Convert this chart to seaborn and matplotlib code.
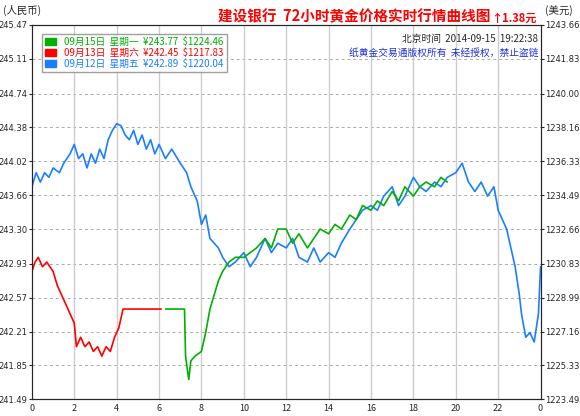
import matplotlib
matplotlib.use("Agg")
import matplotlib.pyplot as plt
import seaborn as sns
import numpy as np
import pandas as pd

sns.set_style("white")
plt.rcParams['font.family'] = ['Noto Sans CJK SC', 'DejaVu Sans']

left_ticks = ["245.47","245.11","244.74","244.38","244.02","243.66","243.30","242.93","242.57","242.21","241.85","241.49"]
right_ticks = ["1243.66","1241.83","1240.00","1238.16","1236.33","1234.49","1232.66","1230.83","1228.99","1227.16","1225.33","1223.49"]
x_labels = ["0","2","4","6","8","10","12","14","16","18","20","22","0"]

blue_x = [0,0.2,0.4,0.6,0.8,1.0,1.3,1.5,1.8,2.0,2.2,2.4,2.6,2.8,3.0,3.2,3.4,3.6,3.8,4.0,4.2,4.4,4.6,4.8,5.0,5.2,5.4,5.6,5.8,6.0,6.3,6.6,7.0,7.3,7.5,7.8,8.0,8.2,8.4,8.8,9.0,9.3,9.6,10.0,10.3,10.6,11.0,11.3,11.6,12.0,12.3,12.6,13.0,13.3,13.6,14.0,14.3,14.6,15.0,15.3,15.6,16.0,16.3,16.6,17.0,17.3,17.6,18.0,18.3,18.6,19.0,19.3,19.6,20.0,20.3,20.6,20.9,21.2,21.5,21.8,22.0,22.2,22.4,22.6,22.8,23.0,23.1,23.3,23.5,23.7,23.9,24.0]
blue_y = [243.75,243.9,243.8,243.9,243.85,243.95,243.9,244.0,244.1,244.2,244.05,244.1,243.95,244.1,244.0,244.15,244.05,244.25,244.35,244.42,244.4,244.3,244.25,244.35,244.2,244.3,244.15,244.25,244.1,244.2,244.05,244.15,244.0,243.9,243.75,243.6,243.35,243.45,243.2,243.1,243.0,242.9,242.95,243.05,242.9,243.0,243.2,243.05,243.15,243.1,243.2,243.0,242.95,243.1,242.95,243.05,243.0,243.15,243.3,243.4,243.5,243.55,243.5,243.65,243.75,243.55,243.65,243.85,243.75,243.7,243.8,243.75,243.85,243.9,244.0,243.8,243.7,243.8,243.65,243.75,243.5,243.4,243.3,243.1,242.9,242.6,242.4,242.15,242.2,242.1,242.4,242.9]
red_x = [0,0.15,0.3,0.5,0.7,1.0,1.2,1.4,1.6,1.8,2.0,2.1,2.3,2.5,2.7,2.9,3.1,3.3,3.5,3.7,3.9,4.1,4.3,4.8,5.4,6.1]
red_y = [242.85,242.95,243.0,242.9,242.95,242.85,242.7,242.6,242.5,242.4,242.3,242.05,242.15,242.05,242.1,242.0,242.05,241.95,242.05,242.0,242.15,242.25,242.45,242.45,242.45,242.45]
green_x = [6.3,7.2,7.25,7.4,7.5,7.7,8.0,8.2,8.4,8.6,8.8,9.0,9.3,9.6,10.0,10.3,10.6,11.0,11.3,11.6,12.0,12.3,12.6,13.0,13.3,13.6,14.0,14.3,14.6,15.0,15.3,15.6,16.0,16.3,16.6,17.0,17.3,17.6,18.0,18.3,18.6,19.0,19.3,19.6]
green_y = [242.45,242.45,241.95,241.7,241.9,241.95,242.0,242.2,242.45,242.6,242.75,242.85,242.95,243.0,243.0,243.05,243.1,243.2,243.1,243.3,243.3,243.15,243.25,243.1,243.2,243.3,243.25,243.35,243.3,243.45,243.4,243.55,243.5,243.6,243.55,243.7,243.6,243.75,243.65,243.75,243.8,243.75,243.85,243.8]

fig = plt.figure(figsize=(5.8, 4.16), dpi=100)
ax = fig.add_axes([0.055, 0.04, 0.877, 0.90])
df = pd.concat([
    pd.DataFrame({"x": blue_x, "y": blue_y, "s": "blue"}),
    pd.DataFrame({"x": red_x, "y": red_y, "s": "red"}),
    pd.DataFrame({"x": green_x, "y": green_y, "s": "green"}),
])
sns.lineplot(data=df, x="x", y="y", hue="s", palette={"blue": "#1a7fff", "red": "#ff0000", "green": "#00b000"},
             ax=ax, legend=False, linewidth=1.2, sort=False, estimator=None)

yt = [float(v) for v in left_ticks]
ax.set_ylim(yt[-1], yt[0])
ax.set_xlim(0, 24)
ax.set_yticks(yt)
ax.set_yticklabels(left_ticks, fontsize=6, family=['DejaVu Sans'])
ax.set_xticks(np.arange(0, 25, 2))
ax.set_xticklabels(x_labels, fontsize=6.5)
ax.set_xlabel(""); ax.set_ylabel("")
for v in yt:
    ax.axhline(v, color="#aaaaaa", ls=(0, (3, 3)), lw=0.7, zorder=0)
for v in np.arange(2, 24, 2):
    ax.axvline(v, color="#cccccc", lw=1, zorder=0)
for s in ax.spines.values():
    s.set_color("#333333"); s.set_linewidth(0.8)
ax.tick_params(length=2, pad=1)

ax2 = ax.twinx()
ax2.set_ylim(yt[-1], yt[0])
ax2.set_yticks(yt)
ax2.set_yticklabels(right_ticks, fontsize=6, family=['DejaVu Sans'])
ax2.tick_params(length=2, pad=1)

fig.text(0.005, 0.975, "(人民币)", fontsize=7.5, va="center")
fig.text(0.94, 0.975, "(美元)", fontsize=7.5, va="center")
fig.text(0.61, 0.962, "建设银行  72小时黄金价格实时行情曲线图", color="red", fontsize=10.5, weight="bold", ha="center", va="center")
fig.text(0.925, 0.955, "↑1.38元", color="red", fontsize=8, weight="bold", ha="right", va="center")
ax.text(0.995, 0.975, "北京时间  2014-09-15  19:22:38", transform=ax.transAxes, ha="right", va="top", fontsize=7)
ax.text(0.995, 0.94, "纸黄金交易通版权所有  未经授权，禁止盗链", transform=ax.transAxes, ha="right", va="top", fontsize=7, color="#2030e0")

from matplotlib.patches import Patch
handles = [Patch(color="#00b000"), Patch(color="#ff0000"), Patch(color="#1a7fff")]
labels = ["09月15日  星期一  ¥243.77  $1224.46", "09月13日  星期六  ¥242.45  $1217.83", "09月12日  星期五  ¥242.89  $1220.04"]
leg = ax.legend(handles, labels, loc="upper left", fontsize=7, frameon=True, fancybox=False,
                handlelength=1.2, handleheight=0.7, borderpad=0.3, labelspacing=0.1, bbox_to_anchor=(0.01, 0.99))
leg.get_frame().set_edgecolor("#888888")
for t, c in zip(leg.get_texts(), ["#00b000", "#ff0000", "#1a7fff"]):
    t.set_color(c)

fig.savefig("out.png", dpi=100)
